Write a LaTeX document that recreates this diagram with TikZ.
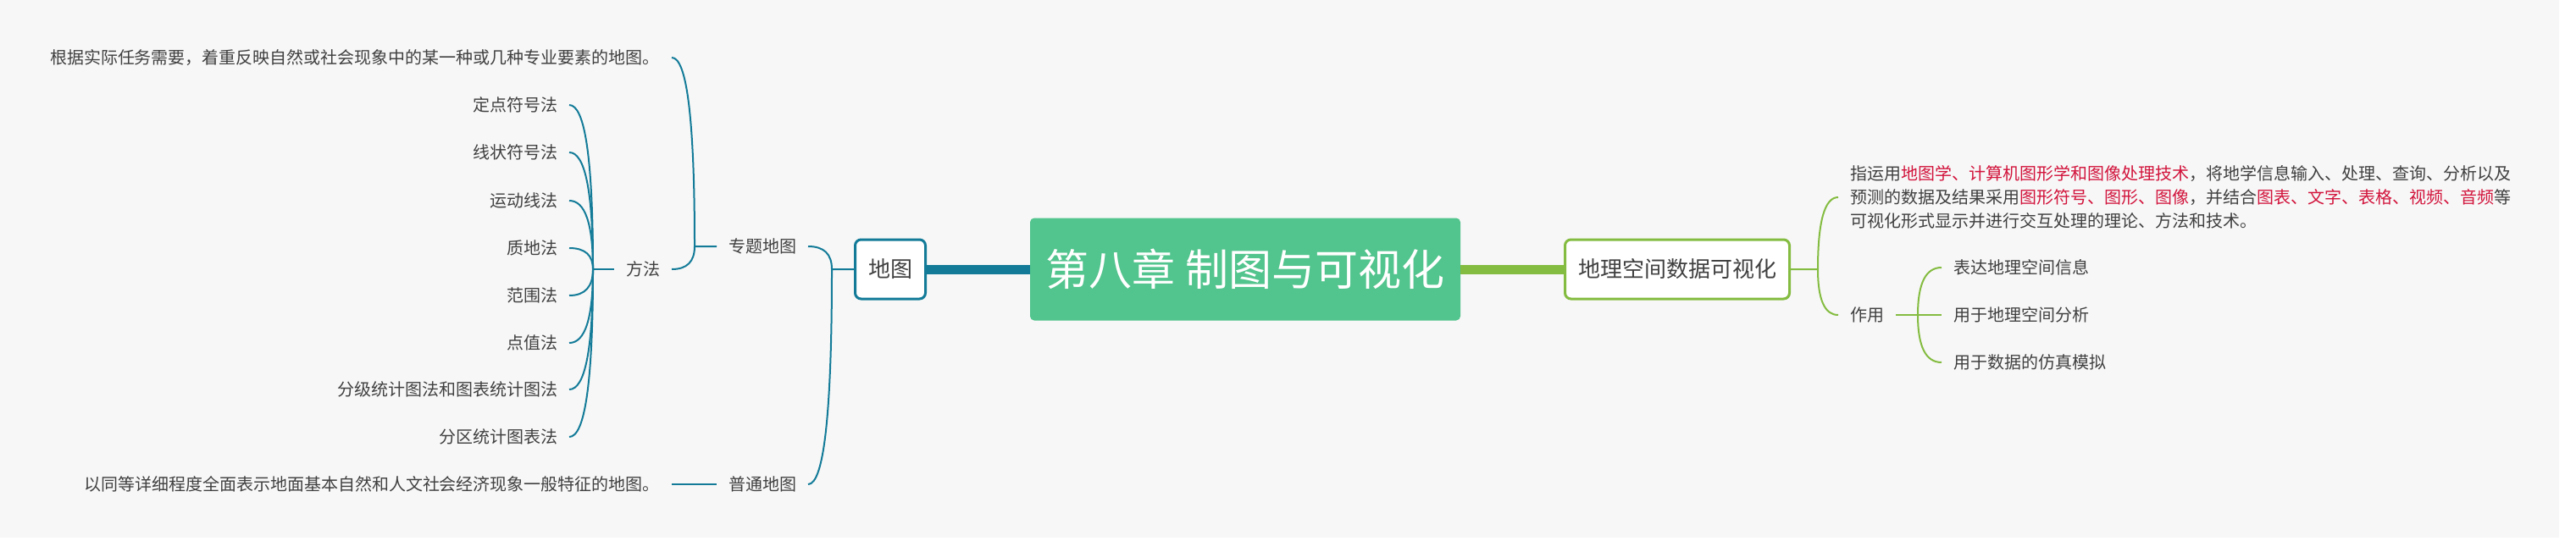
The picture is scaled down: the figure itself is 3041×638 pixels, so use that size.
\documentclass[tikz,border=0pt]{standalone}
\usepackage{fontspec}
\setmainfont{Noto Sans CJK SC}
\usetikzlibrary{calc}
\definecolor{mapblue}{RGB}{19,123,152}
\definecolor{vizgreen}{RGB}{132,188,65}
\definecolor{rootgreen}{RGB}{82,196,141}
\definecolor{hilite}{RGB}{210,20,60}
\definecolor{inkgray}{RGB}{64,64,64}
\definecolor{paper}{RGB}{247,247,247}
\newcommand{\hl}[1]{\textcolor{hilite}{#1}}

\tikzset{
  leaf/.style={text=inkgray,font=\fontsize{10pt}{14pt}\selectfont,inner xsep=6.5pt,inner ysep=2pt},
  topic/.style={draw,line width=1.5pt,fill=white,rounded corners=3.5pt,text=inkgray,font=\fontsize{13pt}{16pt}\selectfont,inner sep=0pt},
  twig/.style={to path={.. controls ($(\tikztostart)!2/3!(\tikztostart |- \tikztotarget)$) and ($(\tikztotarget)!2/3!(\tikztostart |- \tikztotarget)$) .. (\tikztotarget)}}
}

\begin{document}
\begin{tikzpicture}[x=0.5pt,y=-0.5pt]
    \fill[paper] (0,0) rectangle (3021,635);
    \useasboundingbox (0,0) rectangle (3041,638);
    % centre and the two main topics
    \node[fill=rootgreen,rounded corners=2.5pt,minimum width=254pt,minimum height=60.5pt,text=white,font=\fontsize{25.5pt}{30pt}\selectfont] (root) at (1470,318) {第八章 制图与可视化};
    \node[topic,draw=mapblue,minimum width=41.5pt,minimum height=35pt] (map) at (1051,318) {地图};
    \node[topic,draw=vizgreen,minimum width=132.5pt,minimum height=35pt] (viz) at (1980,318) {地理空间数据可视化};
    \draw[mapblue,line width=5.5pt] (map.east) -- (root.west);
    \draw[vizgreen,line width=5.5pt] (root.east) -- (viz.west);

    % left: maps
    \begin{scope}[mapblue,line width=1pt]
      \coordinate (jA) at (982,318);
      \node[leaf] (zhuanti) at (900,291) {专题地图};
      \node[leaf] (putong) at (900,572) {普通地图};
      \draw (map.west) -- (jA) to[twig] (zhuanti.east) (jA) to[twig] (putong.east);

      \coordinate (jT) at (820,291);
      \node[leaf,anchor=east] (thematic) at (793,68) {根据实际任务需要，着重反映自然或社会现象中的某一种或几种专业要素的地图。};
      \node[leaf] (fangfa) at (759,318) {方法};
      \draw (zhuanti.west) -- (jT) to[twig] (thematic.east) (jT) to[twig] (fangfa.east);

      \coordinate (jF) at (700,318);
      \draw (fangfa.west) -- (jF);
      \foreach \t/\y [count=\i] in {定点符号法/124,线状符号法/180,运动线法/237,质地法/293,范围法/349,点值法/405,分级统计图法和图表统计图法/460,分区统计图表法/516}
      {
        \node[leaf,anchor=east] (m\i) at (672,\y) {\t};
        \draw (jF) to[twig] (m\i.east);
      }

      \node[leaf,anchor=east] (general) at (793,572) {以同等详细程度全面表示地面基本自然和人文社会经济现象一般特征的地图。};
      \draw (putong.west) -- (general.east);
    \end{scope}

    % right: visualisation
    \begin{scope}[vizgreen,line width=1pt]
      \coordinate (jB) at (2146,318);
      \node[leaf,anchor=west,align=left] (define) at (2170,233) {指运用\hl{地图学、计算机图形学和图像处理技术}，将地学信息输入、处理、查询、分析以及\\预测的数据及结果采用\hl{图形符号、图形、图像}，并结合\hl{图表、文字、表格、视频、音频}等\\可视化形式显示并进行交互处理的理论、方法和技术。};
      \node[leaf,anchor=west] (zuoyong) at (2170,372) {作用};
      \draw (viz.east) -- (jB) to[twig] (define.west) (jB) to[twig] (zuoyong.west);

      \coordinate (jZ) at (2264,372);
      \draw (zuoyong.east) -- (jZ);
      \foreach \t/\y [count=\i] in {表达地理空间信息/316,用于地理空间分析/372,用于数据的仿真模拟/428}
      {
        \node[leaf,anchor=west] (u\i) at (2292,\y) {\t};
        \draw (jZ) to[twig] (u\i.west);
      }
    \end{scope}
\end{tikzpicture}
\end{document}
